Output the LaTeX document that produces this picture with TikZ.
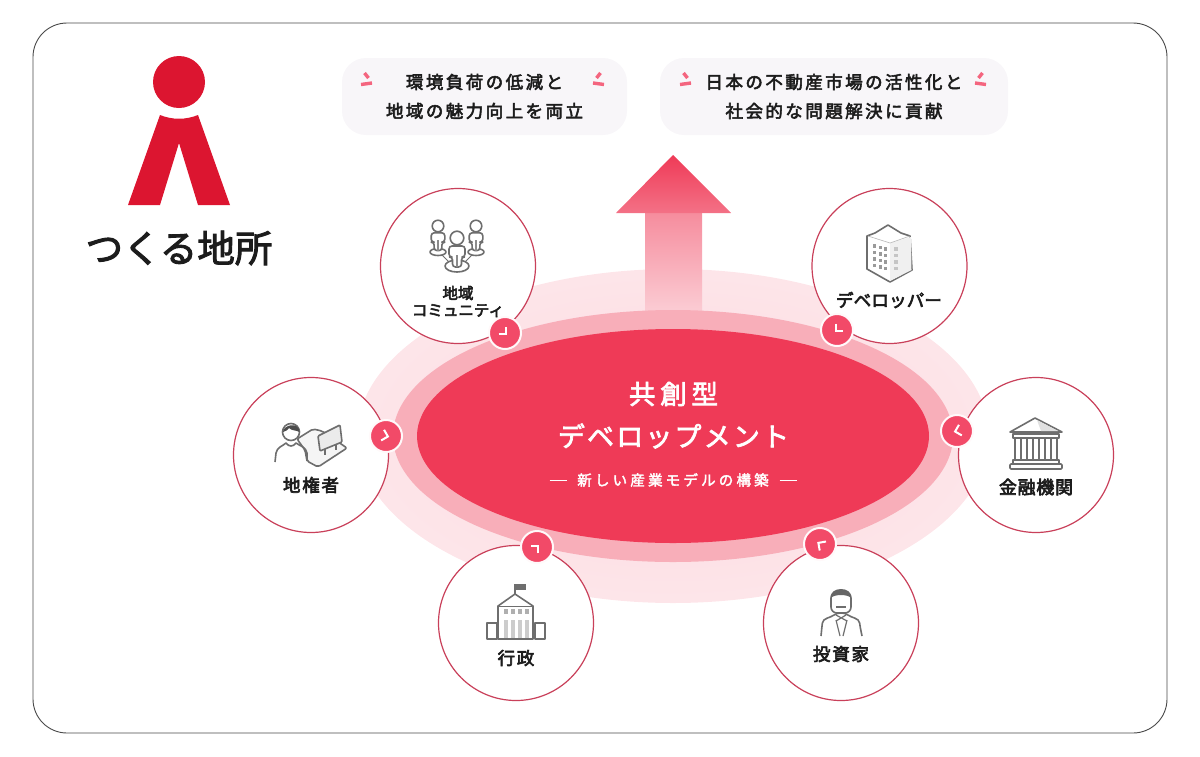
\documentclass[tikz,border=0pt]{standalone}
\usepackage{fontspec}
\setmainfont{Noto Sans CJK JP}
\definecolor{logored}{HTML}{DC1530}
\definecolor{corered}{HTML}{EF3A57}
\definecolor{midpink}{HTML}{F8AEB9}
\definecolor{palepink}{HTML}{FCD8DE}
\definecolor{badgered}{HTML}{F24A68}
\definecolor{ringred}{HTML}{C9405A}
\definecolor{blobgrey}{HTML}{F8F6F9}
\definecolor{icongrey}{HTML}{6E6E6E}
\definecolor{inkblack}{HTML}{1C1C1C}
\tikzset{
  stakeholder/.style={circle,draw=ringred,line width=1.2pt,fill=white,minimum size=155pt,inner sep=0pt},
  badge/.style={circle,draw=white!85!palepink,line width=2pt,fill=badgered,minimum size=32pt,inner sep=0pt},
  chevron/.style={draw=white,line width=2pt},
  callout/.style={fill=blobgrey,rounded corners=24pt,minimum height=77pt,align=center,text=inkblack,
    font=\fontsize{17.5}{29}\selectfont\addfontfeature{LetterSpace=14,FakeBold=3}},
  rolelabel/.style={text=inkblack,inner sep=0pt,align=center,
    font=\fontsize{17.5}{17}\selectfont\addfontfeature{LetterSpace=10,FakeBold=3.5}},
  corelabel/.style={text=white,inner sep=0pt,font=\fontsize{26}{26}\selectfont\addfontfeature{LetterSpace=13,FakeBold=2.5}},
  iconline/.style={draw=icongrey,line width=1.6pt,line join=round,fill=white},
  accent/.style={draw=badgered!85,line width=3.4pt},
}
\newcommand{\commperson}[3]{
  \begin{scope}[shift={(#1,#2)},scale=#3]
    \draw[iconline,rounded corners=3pt] (-8,8) -- (8,8) -- (8,19) -- (4.5,19) -- (4.5,29) -- (-4.5,29) -- (-4.5,19) -- (-8,19) -- cycle;
    \draw[icongrey!80,line width=1.1pt] (0,17) -- (0,29);
    \draw[iconline] (0,0) circle [radius=6.8];
  \end{scope}
}
\begin{document}
\begin{tikzpicture}[x=1pt,y=-1pt]
  \useasboundingbox (0,0) rectangle (1200,756);
  \draw[inkblack!80,line width=0.9pt,rounded corners=34pt] (33,23) rectangle (1167,733);

  % logo
  \fill[logored] (179,82) circle [radius=26];
  \fill[logored] (160,115) .. controls (172,120) and (186,120) .. (198,115) -- (230,205) -- (198,205)
    -- (179,143) -- (160,205) -- (128,205) -- cycle;
  \node[text=inkblack,inner sep=0pt,font=\fontsize{37.5}{38}\selectfont\addfontfeature{FakeBold=2.6}] (logotext) at (179,248) {つくる地所};

  % goals
  \node[callout,minimum width=285pt] (goalleft) at (484.5,96.5) {環境負荷の低減と\\地域の魅力向上を両立};
  \node[callout,minimum width=348pt] (goalright) at (834,96.5) {日本の不動産市場の活性化と\\社会的な問題解決に貢献};
  \foreach \x/\s in {367/1,598/-1,686/1,980/-1}{
    \begin{scope}[shift={(\x,0)},xscale=\s]
      \draw[accent] (-2.5,73) -- (1.5,78);
      \draw[accent] (-6,84.5) -- (5,83);
    \end{scope}
  }

  % ellipses and arrow
  \shade[inner color=palepink,outer color=palepink!66] (673,436) ellipse [x radius=316,y radius=167];
  \shade[bottom color=palepink,top color=corered!58!white] (645,330) -- (645,213) -- (702,213) -- (702,330) -- cycle;
  \shade[top color=corered,bottom color=corered!72!white] (673,155) -- (731,213) -- (616,213) -- cycle;
  \fill[midpink] (673,436) ellipse [x radius=280,y radius=126];
  \fill[corered] (673,436) ellipse [x radius=256,y radius=107];

  \node[corelabel,font=\fontsize{26.5}{26}\selectfont\addfontfeature{LetterSpace=18,FakeBold=2.5}] (coretop) at (673.5,394) {共創型};
  \node[corelabel,font=\fontsize{27}{26}\selectfont\addfontfeature{LetterSpace=8,FakeBold=2.5}] (coremid) at (673.5,436) {デベロップメント};
  \node[text=white,inner sep=0pt,font=\fontsize{14.5}{14}\selectfont\addfontfeature{LetterSpace=22,FakeBold=2.5}] (coresub) at (673,480) {新しい産業モデルの構築};
  \coordinate (dashl) at (558,480);
  \coordinate (dashr) at (788,480);
  \draw[white,line width=1pt] ([xshift=-8.5pt]dashl) -- ([xshift=8.5pt]dashl);
  \draw[white,line width=1pt] ([xshift=-8.5pt]dashr) -- ([xshift=8.5pt]dashr);

  % stakeholders
  \foreach \name/\x/\y in {community/458/266,developer/889.5/266,landowner/311/455,bank/1036/455,gov/516/623,investor/841/623}{
    \node[stakeholder] (\name) at (\x,\y) {};
  }
  \node[rolelabel,font=\fontsize{15.5}{17}\selectfont\addfontfeature{LetterSpace=0,FakeBold=3.5}] (communitytext) at (458,301.5) {地域\\コミュニティ};
  \node[rolelabel,font=\fontsize{17.5}{17}\selectfont\addfontfeature{LetterSpace=1,FakeBold=3.5}] (developertext) at (889,300) {デベロッパー};
  \node[rolelabel] (landownertext) at (311,485) {地権者};
  \node[rolelabel,font=\fontsize{18}{17}\selectfont\addfontfeature{LetterSpace=4,FakeBold=3.5}] (banktext) at (1036,487) {金融機関};
  \node[rolelabel] (govtext) at (516,658) {行政};
  \node[rolelabel] (investortext) at (841,654) {投資家};

  % community icon
  \draw[iconline] (457,266) ellipse [x radius=12,y radius=6];
  \draw[iconline] (438,252) ellipse [x radius=8,y radius=3.5];
  \draw[iconline] (476,252) ellipse [x radius=8,y radius=3.5];
  \draw[icongrey,line width=1pt] (442,255) -- (449,262) (472,255) -- (465,262);
  \commperson{438}{226}{0.85}
  \commperson{476}{226}{0.85}
  \commperson{457}{238}{1}

  % developer icon
  \draw[iconline,fill=white] (867,236) -- (875,233) -- (888,225) -- (901,233) -- (910,236) -- (912,270) -- (890,282) -- (867,269) -- cycle;
  \fill[black!6] (890,243) -- (911,237) -- (911.5,270) -- (890,281) -- cycle;
  \draw[icongrey!50,line width=0.6pt] (868,236) -- (890,243) -- (910,236);
  \foreach \i in {0,1,2,3}{
    \foreach \j in {0,1,2}{
      \fill[icongrey!70] (873+\j*5.5,244+\i*6.5+\j*1.5) rectangle +(3,3.5);
    }
    \fill[icongrey!40] (894,247+\i*6.5) rectangle +(3.5,3.5);
  }

  % landowner icon
  \draw[iconline,fill=black!4,rounded corners=2pt] (297,439) -- (313,429) -- (322,431) -- (347,448) -- (318,467) -- (307,461) -- (305,450) -- cycle;
  \draw[iconline,fill=black!8,rounded corners=1pt] (318,436) -- (340,425) -- (342,442) -- (320,451) -- cycle;
  \draw[icongrey,line width=1.6pt] (325,449) -- (325,455) (336,445) -- (336,450);
  \draw[iconline,fill=none] (275,462) -- (276,453) .. controls (277,447) and (283,446) .. (286,443) .. controls (289,447) and (293,447) .. (296,443) .. controls (300,446) and (306,447) .. (307,453) -- (307,461);
  \draw[iconline] (291,432) circle [radius=8.5];
  \fill[black!70] (283,432) .. controls (283,425) and (299,421) .. (299.5,432) .. controls (296,430) and (292,431) .. (289,428) .. controls (287,431) and (285,431) .. (283,432) -- cycle;

  % bank icon
  \draw[iconline,fill=white] (1035,418) -- (1062,432) -- (1010,432) -- cycle;
  \fill[black!12] (1037,420) -- (1058,431) -- (1041,431) -- cycle;
  \draw[iconline,fill=white] (1013,434) rectangle (1059,438);
  \foreach \x in {1016,1022,1028,1034,1040,1046,1052,1058}{
    \draw[icongrey,line width=1.6pt] (\x-1,438) -- (\x-1,460);
  }
  \draw[iconline,fill=white] (1013,460) rectangle (1059,464);
  \draw[iconline,fill=white,rounded corners=1pt] (1010,464) rectangle (1062,469);

  % government icon
  \draw[iconline] (487,623) rectangle (497,639);
  \draw[iconline] (535,623) rectangle (545,639);
  \draw[iconline] (498,606) -- (515,594) -- (533,606) -- (533,639) -- (498,639) -- cycle;
  \draw[icongrey,line width=1pt] (498,606) -- (533,606);
  \fill[icongrey] (515,584) rectangle (526,590);
  \draw[icongrey,line width=1.6pt] (515,584) -- (515,594);
  \foreach \x in {504,511,518,525}{
    \fill[icongrey!55] (\x,609) rectangle +(3.5,5);
    \fill[icongrey!35] (\x-0.5,620) rectangle +(4,18);
  }

  % investor icon
  \draw[iconline,fill=none,rounded corners=3pt] (821,636) -- (822,626) .. controls (823,618) and (830,618) .. (837,613) -- (845,613) .. controls (852,618) and (859,618) .. (860,626) -- (862,636);
  \draw[icongrey,line width=1.2pt] (836,615) -- (847,621) (846,615) -- (836,621) (836,620) -- (840,636) (847,620) -- (843,636);
  \draw[iconline,rounded corners=6pt] (831,592) rectangle (851,613);
  \fill[black!60] (831,598) .. controls (829,586) and (853,586) .. (851,598) .. controls (848,594) and (834,594) .. (831,598) -- cycle;
  \draw[icongrey,line width=1.6pt] (836,607) -- (846,607);

  % badges
  \foreach \name/\x/\y/\ang in {badgea/505/333/-45,badgeb/837/330/-135,badgec/386/436/-15,badged/957/431/195,badgee/537/547/45,badgef/820/544/145}{
    \node[badge] (\name) at (\x,\y) {};
    \draw[chevron,shift={(\name)},rotate=\ang] (-3.5,5.5) -- (2,0) -- (-3.5,-5.5);
  }
\end{tikzpicture}
\end{document}
